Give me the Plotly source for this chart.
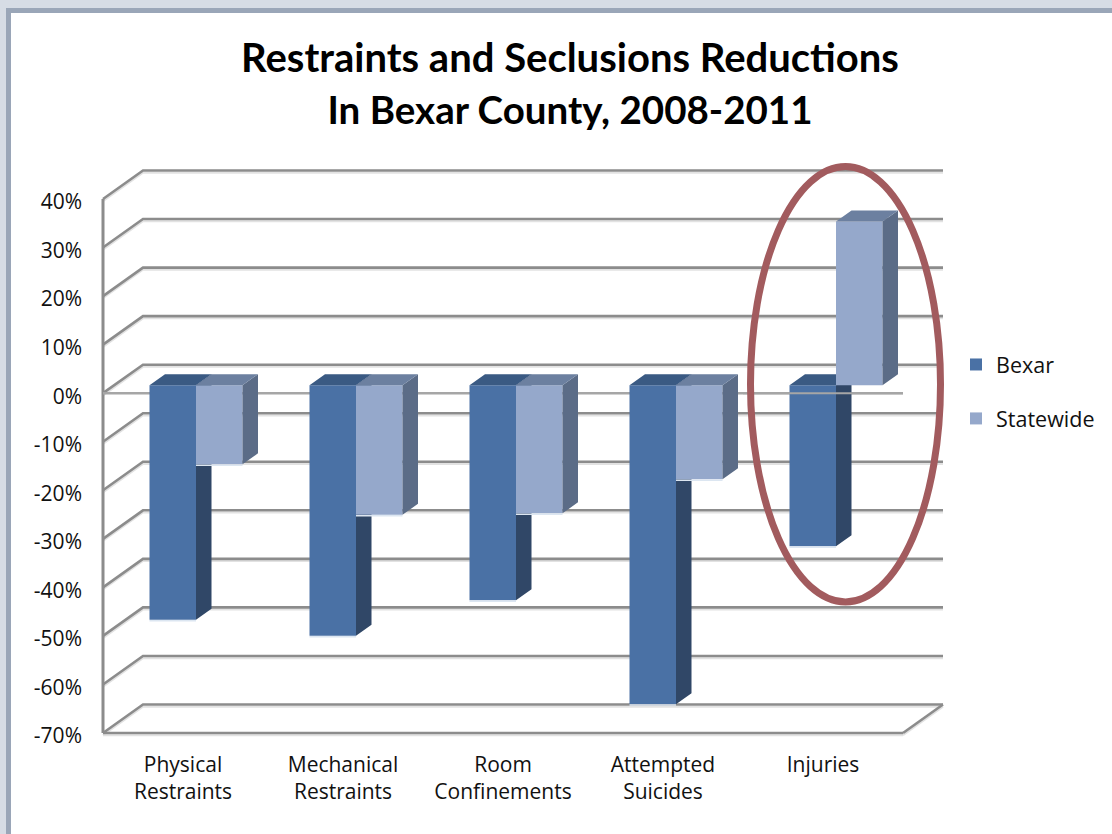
import plotly.graph_objects as go

categories = ["Physical<br>Restraints", "Mechanical<br>Restraints", "Room<br>Confinements", "Attempted<br>Suicides", "Injuries"]
bexar = [-48.3, -51.6, -44.3, -65.7, -33.2]
statewide = [-16.3, -26.7, -26.4, -19.4, 33.7]
y_ticks = [40, 30, 20, 10, 0, -10, -20, -30, -40, -50, -60, -70]
y_labels = ["40%", "30%", "20%", "10%", "0%", "-10%", "-20%", "-30%", "-40%", "-50%", "-60%", "-70%"]

W, H = 1112, 834
FONT = "Open Sans"
LEFT, RIGHT, TOP, BOTTOM = 103, 903, 199, 733
PX_X = (RIGHT - LEFT) / 5          # px per category
PX_Y = (BOTTOM - TOP) / 110        # px per percent unit
WALL_DX, WALL_DY = 40 / PX_X, 28.5 / PX_Y
BAR_DX, BAR_DY = 15.5 / PX_X, 11 / PX_Y
LIFT = 8 / PX_Y
BAR_W = 46.5 / PX_X
SHIFT = 13 / PX_X
GRID = "#8C8C8C"
# the axes span the whole page so the 3-D frame is not clipped; scales stay linear
X_RANGE = [-0.5 - LEFT / PX_X, -0.5 + (W - LEFT) / PX_X]
Y_RANGE = [-70 - (H - BOTTOM) / PX_Y, 40 + TOP / PX_Y]

idx = list(range(len(categories)))
fig = go.Figure()


def frame_xy(offset=0.0):
    xs, ys = [], []
    for t in y_ticks:
        xs += [-0.5, -0.5 + WALL_DX, 4.5 + WALL_DX, None]
        ys += [t - offset, t + WALL_DY - offset, t + WALL_DY - offset, None]
    xs += [4.5, 4.5 + WALL_DX, None, -0.5, 4.5]
    ys += [-70 - offset, -70 + WALL_DY - offset, None, -70 - offset, -70 - offset]
    return xs, ys


sx, sy = frame_xy(0.45)
fig.add_trace(go.Scatter(x=sx, y=sy, mode="lines", line=dict(color="#E2E2E2", width=2),
                         showlegend=False, hoverinfo="skip"))
gx, gy = frame_xy()
fig.add_trace(go.Scatter(x=gx, y=gy, mode="lines", line=dict(color=GRID, width=2.6),
                         showlegend=False, hoverinfo="skip"))
fig.add_trace(go.Scatter(x=[-0.5, -0.5], y=[-70, 40], mode="lines", line=dict(color=GRID, width=3),
                         showlegend=False, hoverinfo="skip"))
fig.add_trace(go.Scatter(x=[-0.5, 4.5], y=[0, 0], mode="lines", line=dict(color="#A6A6A6", width=2.5),
                         showlegend=False, hoverinfo="skip"))


def add_series(name, values, center_off, front, top, side, xa, ya):
    xc = [i + SHIFT + center_off for i in idx]
    fig.add_trace(go.Bar(x=xc, y=values, base=[LIFT] * len(values), width=BAR_W, name=name,
                         marker=dict(color=front, line=dict(width=0)), xaxis=xa, yaxis=ya,
                         legendgroup=name))
    sxs, sys, txs, tys, hx, hy = [], [], [], [], [], []
    for c, v in zip(xc, values):
        r = c + BAR_W / 2
        l = c - BAR_W / 2
        hi = LIFT + max(v, 0)
        lo = LIFT + min(v, 0)
        sxs += [r, r, r + BAR_DX, r + BAR_DX, r, None]
        sys += [lo, hi, hi + BAR_DY, lo + BAR_DY, lo, None]
        txs += [l, r, r + BAR_DX, l + BAR_DX, l, None]
        tys += [hi, hi, hi + BAR_DY, hi + BAR_DY, hi, None]
        if v < 0:
            hx += [l, r, None]
            hy += [lo - 0.2, lo - 0.2, None]
    for px, py, col in ((sxs, sys, side), (txs, tys, top)):
        fig.add_trace(go.Scatter(x=px, y=py, mode="lines", fill="toself", fillcolor=col,
                                 line=dict(width=0, color=col), showlegend=False, hoverinfo="skip",
                                 xaxis=xa, yaxis=ya))
    fig.add_trace(go.Scatter(x=hx, y=hy, mode="lines", line=dict(color="#DCE6F1", width=1.5),
                             showlegend=False, hoverinfo="skip", xaxis=xa, yaxis=ya))


add_series("Bexar", bexar, -BAR_W / 2, "#4A71A5", "#3A5A83", "#304767", "x2", "y2")
add_series("Statewide", statewide, BAR_W / 2, "#95A8CB", "#6C80A0", "#5B6C87", "x3", "y3")

# zero line passing in front of the Injuries pair
fig.add_trace(go.Scatter(x=[3.5, 4.5], y=[0, 0], mode="lines", line=dict(color="#A6A6A6", width=2),
                         showlegend=False, hoverinfo="skip", xaxis="x3", yaxis="y3"))

hidden_x = dict(domain=[0, 1], range=X_RANGE, visible=False)
hidden_y = dict(domain=[0, 1], range=Y_RANGE, visible=False)


def px_shape(kind, x0, y0, x1, y1, **kw):
    return dict(type=kind, xref="paper", yref="paper", x0=x0 / W, x1=x1 / W,
                y0=1 - y0 / H, y1=1 - y1 / H, **kw)


fig.update_layout(
    width=W, height=H, autosize=False,
    margin=dict(l=0, r=0, t=0, b=0, pad=0),
    paper_bgcolor="#D6DCE5", plot_bgcolor="rgba(0,0,0,0)",
    barmode="overlay",
    font=dict(family=FONT, size=21, color="#111111"),
    title=dict(text="<b>Restraints and Seclusions Reductions<br>"
                    "<span style='font-size:38.5px'>In Bexar County, 2008-2011</span></b>",
               x=570 / W, xanchor="center", y=1 - 72 / H, yanchor="top",
               font=dict(family="Lato", size=40, color="#000000")),
    xaxis=dict(domain=[0, 1], range=X_RANGE, tickmode="array", tickvals=idx, ticktext=categories,
               showgrid=False, zeroline=False, showline=False, ticks="", ticklabelstandoff=17,
               ticklabelshift=0,
               tickfont=dict(family=FONT, size=21, color="#111111"), automargin=False,
               anchor="free", position=1 - BOTTOM / H),
    yaxis=dict(domain=[0, 1], range=Y_RANGE, tickmode="array", tickvals=y_ticks, ticktext=y_labels,
               showgrid=False, zeroline=False, showline=False, ticks="", ticklabelstandoff=21,
               ticklabelshift=3,
               tickfont=dict(family=FONT, size=21, color="#111111"), automargin=False,
               anchor="free", position=LEFT / W),
    xaxis2=dict(hidden_x, overlaying="x", anchor="y2"),
    yaxis2=dict(hidden_y, overlaying="y", anchor="x2"),
    xaxis3=dict(hidden_x, overlaying="x", anchor="y3"),
    yaxis3=dict(hidden_y, overlaying="y", anchor="x3"),
    legend=dict(x=956 / W, y=1 - 344 / H, xanchor="left", yanchor="top", bgcolor="rgba(0,0,0,0)",
                tracegroupgap=23, font=dict(family=FONT, size=21.5, color="#111111"),
                itemclick=False, itemdoubleclick=False),
    shapes=[
        px_shape("rect", 8.5, 10.5, W + 20, H + 20, fillcolor="#FFFFFF",
                 line=dict(color="#9AA6B8", width=5), layer="below"),
        px_shape("circle", 750.5, 166.5, 940.5, 602, fillcolor="rgba(0,0,0,0)",
                 line=dict(color="#A25B5E", width=7), layer="above"),
    ],
)

fig.write_html("out.html", post_script="document.body.style.margin='0';document.body.style.overflow='hidden';",
               config=dict(displayModeBar=False))
